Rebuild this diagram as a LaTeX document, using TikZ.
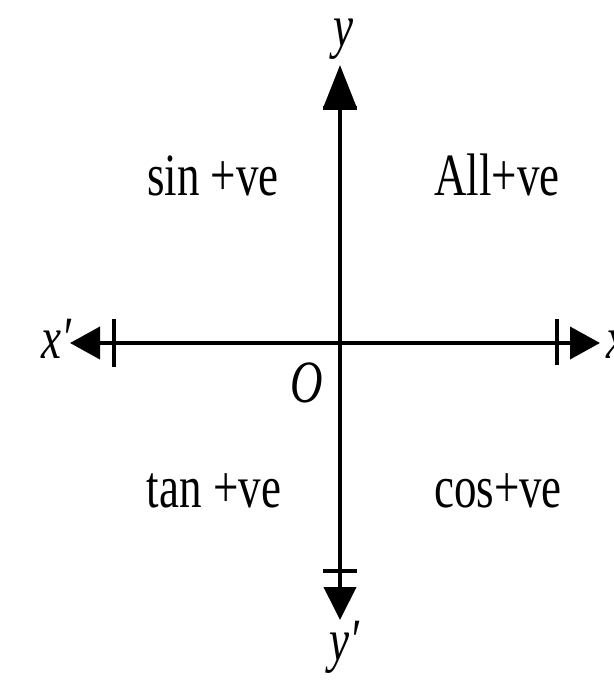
\documentclass[tikz,border=0pt]{standalone}
\usepackage{fontspec}
\usetikzlibrary{arrows.meta}
\newfontfamily\cf[FakeStretch=0.75]{Liberation Serif}
\begin{document}
\begin{tikzpicture}[x=1pt,y=-1pt,
  axis/.style={line width=4pt},
  barline/.style={line width=3.5pt},
  lbl/.style={font=\cf\fontsize{60}{60}\selectfont, anchor=base, inner sep=0pt},
  ilbl/.style={font=\cf\itshape\fontsize{60}{60}\selectfont, anchor=base, inner sep=0pt}]
\useasboundingbox (0,0) rectangle (613,682);
% axis ends
\coordinate (L) at (70,343);
\coordinate (R) at (600,343);
\coordinate (T) at (340,65);
\coordinate (B) at (340,620);
\draw[axis,{Triangle[length=30pt,width=32pt]}-{Triangle[length=30pt,width=32pt]}] (L) -- (R);
\draw[axis,{Triangle[length=42pt,width=32pt]}-{Triangle[length=33pt,width=32pt]}] (T) -- (B);
% bars
\coordinate (bl1) at (114,319); \coordinate (bl2) at (114,367);
\coordinate (br1) at (557,319); \coordinate (br2) at (557,365);
\coordinate (bt1) at (323,108); \coordinate (bt2) at (357,108);
\coordinate (bb1) at (323,571); \coordinate (bb2) at (357,571);
\draw[barline] (bl1) -- (bl2);
\draw[barline] (br1) -- (br2);
\draw[barline] (bt1) -- (bt2);
\draw[barline] (bb1) -- (bb2);
% quadrant labels
\node[lbl] (sin) at (213,195) {sin +ve};
\node[lbl] (all) at (497,195) {All+ve};
\node[lbl] (tan) at (214,507) {tan +ve};
\node[lbl] (cos) at (498,507) {cos+ve};
% axis labels
\node[ilbl] (O1) at (307,402) {O};
\node[ilbl, text height=28pt] (y1) at (343,47) {y};
\node[ilbl] (y2) at (344,660) {y\symbol{"2032}};
\node[ilbl] (x2) at (56,358) {x\symbol{"2032}};
\node[ilbl, anchor=base west] (x1) at (606,358) {x};
\end{tikzpicture}
\end{document}
